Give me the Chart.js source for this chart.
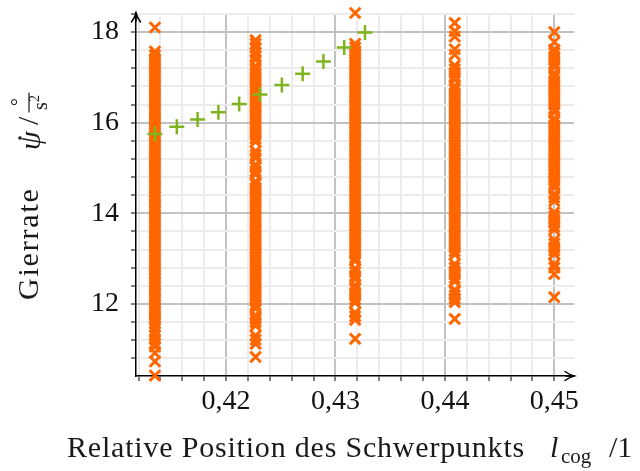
<!DOCTYPE html>
<html>
<head>
<meta charset="utf-8">
<script src="https://cdn.jsdelivr.net/npm/chart.js@4.4.1/dist/chart.umd.min.js"></script>
<style>
  body { margin: 0; background: #fff; }
  canvas { display: block; }
</style>
</head>
<body>
<canvas id="myChart" width="640" height="471"></canvas>
<script>
// positions of the five measured configurations (relative cog position)
const columnX = [0.4135, 0.4227, 0.4318, 0.4409, 0.4500];

// yaw rate samples for each configuration
const col1 = [10.42, 10.73, 10.92, 11.06, 11.13, 11.22, 11.31, 11.38, 11.49, 11.57, 11.64, 11.71, 11.79, 11.86, 11.93,
  12.01, 12.09, 12.16, 12.24, 12.31, 12.39, 12.47, 12.55, 12.62, 12.69, 12.77, 12.85, 12.92, 13.00, 13.08, 13.15,
  13.23, 13.30, 13.38, 13.46, 13.53, 13.61, 13.68, 13.76, 13.84, 13.91, 13.99, 14.06, 14.14, 14.22, 14.29, 14.37,
  14.46, 14.53, 14.60, 14.68, 14.75, 14.83, 14.91, 14.98, 15.06, 15.13, 15.21, 15.29, 15.36, 15.44, 15.51, 15.59,
  15.67, 15.74, 15.82, 15.89, 15.97, 16.05, 16.12, 16.20, 16.27, 16.35, 16.43, 16.50, 16.58, 16.65, 16.73, 16.81,
  16.88, 16.96, 17.03, 17.11, 17.19, 17.26, 17.34, 17.41, 17.49, 17.57, 18.10];
const col2 = [10.83, 11.12, 11.21, 11.30, 11.52, 11.60, 11.67, 11.75, 11.90, 11.98, 12.06, 12.13, 12.21, 12.28, 12.36,
  12.44, 12.51, 12.59, 12.66, 12.74, 12.82, 12.89, 12.97, 13.04, 13.12, 13.20, 13.27, 13.35, 13.42, 13.50, 13.58,
  13.65, 13.73, 13.80, 13.88, 13.96, 14.03, 14.11, 14.18, 14.26, 14.34, 14.41, 14.49, 14.56, 14.64, 14.70, 14.86,
  14.93, 15.01, 15.07, 15.22, 15.29, 15.37, 15.58, 15.65, 15.73, 15.80, 15.88, 15.96, 16.03, 16.11, 16.18, 16.26,
  16.34, 16.41, 16.49, 16.56, 16.64, 16.72, 16.79, 16.87, 16.94, 17.02, 17.10, 17.17, 17.25, 17.39, 17.47, 17.54,
  17.66, 17.74, 17.82];
const col3 = [11.23, 11.65, 11.73, 11.81, 12.03, 12.10, 12.18, 12.25, 12.33, 12.41, 12.55, 12.62, 12.70, 12.78, 12.95,
  13.02, 13.10, 13.17, 13.25, 13.33, 13.40, 13.48, 13.55, 13.63, 13.71, 13.78, 13.86, 13.93, 14.01, 14.09, 14.16,
  14.24, 14.31, 14.39, 14.47, 14.54, 14.62, 14.69, 14.77, 14.85, 14.92, 15.00, 15.07, 15.15, 15.23, 15.30, 15.38,
  15.45, 15.53, 15.61, 15.68, 15.76, 15.83, 15.91, 15.99, 16.06, 16.14, 16.21, 16.29, 16.37, 16.44, 16.52, 16.59,
  16.67, 16.75, 16.82, 16.90, 16.97, 17.05, 17.13, 17.20, 17.28, 17.35, 17.43, 17.51, 17.58, 17.66, 17.74, 18.42];
const col4 = [11.67, 12.04, 12.12, 12.19, 12.27, 12.31, 12.50, 12.57, 12.65, 12.72, 12.80, 12.88, 13.09, 13.16, 13.24,
  13.31, 13.39, 13.47, 13.54, 13.62, 13.69, 13.77, 13.85, 13.92, 14.00, 14.07, 14.15, 14.23, 14.30, 14.38, 14.45,
  14.53, 14.61, 14.68, 14.76, 14.83, 14.91, 14.99, 15.06, 15.14, 15.21, 15.29, 15.37, 15.44, 15.52, 15.59, 15.67,
  15.75, 15.82, 15.90, 15.97, 16.05, 16.13, 16.20, 16.28, 16.35, 16.43, 16.51, 16.58, 16.66, 16.73, 16.81, 16.95,
  17.03, 17.10, 17.18, 17.26, 17.50, 17.62, 17.90, 18.02, 18.20];
const col5 = [12.15, 12.66, 12.80, 12.88, 13.10, 13.18, 13.25, 13.33, 13.41, 13.64, 13.71, 13.79, 13.87, 13.94, 14.02,
  14.27, 14.35, 14.42, 14.57, 14.65, 14.72, 14.80, 14.88, 14.95, 15.03, 15.10, 15.18, 15.26, 15.33, 15.41, 15.48,
  15.56, 15.64, 15.71, 15.79, 15.86, 15.94, 16.02, 16.09, 16.24, 16.32, 16.40, 16.47, 16.55, 16.62, 16.70, 16.78,
  16.85, 16.93, 17.00, 17.08, 17.23, 17.31, 17.38, 17.46, 17.54, 17.61, 17.78, 18.00];

// green reference line points
const lineX = [0.4135, 0.4155, 0.4174, 0.4193, 0.4212, 0.4231, 0.4251, 0.4270, 0.4289, 0.4308, 0.4327];
const lineY = [15.75, 15.91, 16.07, 16.23, 16.41, 16.62, 16.83, 17.08, 17.35, 17.66, 17.99];

// labelled ticks
const xLabels = [0.42, 0.43, 0.44, 0.45];
const yLabels = [12, 14, 16, 18];

const xTitle = 'Relative Position des Schwerpunkts';
const yTitle = 'Gierrate';

const orange = '#ff6600';
const green = '#80b41e';
const serif = '"Liberation Serif", "Times New Roman", serif';

const columns = [col1, col2, col3, col4, col5];
const samples = [];
columns.forEach((ys, i) => ys.forEach(y => samples.push({ x: columnX[i], y: y })));
const linePts = lineX.map((x, i) => ({ x: x, y: lineY[i] }));

const isMajorX = v => xLabels.some(l => Math.abs(l - v) < 1e-6);
const isMajorY = v => yLabels.some(l => Math.abs(l - v) < 1e-6);

// arrows on the axes + the axis titles with sub/superscripts
const decorations = {
    id: 'decorations',
    afterDraw(chart) {
        const ctx = chart.ctx;
        const a = chart.chartArea;
        ctx.save();
        ctx.strokeStyle = '#000';
        ctx.lineWidth = 1.5;
        ctx.lineCap = 'round';
        // y arrow
        ctx.beginPath();
        ctx.moveTo(a.left - 4.5, a.top + 9);
        ctx.quadraticCurveTo(a.left - 1, a.top + 4, a.left, a.top);
        ctx.quadraticCurveTo(a.left + 1, a.top + 4, a.left + 4.5, a.top + 9);
        ctx.moveTo(a.left, a.top);
        ctx.lineTo(a.left, a.top + 8);
        ctx.stroke();
        // x arrow
        ctx.beginPath();
        ctx.moveTo(a.right - 9, a.bottom - 4.5);
        ctx.quadraticCurveTo(a.right - 4, a.bottom - 1, a.right, a.bottom);
        ctx.quadraticCurveTo(a.right - 4, a.bottom + 1, a.right - 9, a.bottom + 4.5);
        ctx.moveTo(a.right, a.bottom);
        ctx.lineTo(a.right - 8, a.bottom);
        ctx.stroke();

        ctx.fillStyle = '#1a1a1a';
        ctx.textBaseline = 'alphabetic';
        // x title
        ctx.font = '30px ' + serif;
        ctx.letterSpacing = '0.8px';
        ctx.fillText(xTitle, 67, 457);
        ctx.letterSpacing = '0px';
        ctx.font = 'italic 30px ' + serif;
        ctx.fillText('l', 550, 457);
        ctx.font = '21px ' + serif;
        ctx.fillText('cog', 561, 463);
        ctx.font = '30px ' + serif;
        ctx.fillText('/1', 609, 457);

        // y title (rotated)
        ctx.translate(38, 300);
        ctx.rotate(-Math.PI / 2);
        ctx.font = '30px ' + serif;
        ctx.letterSpacing = '1.8px';
        ctx.fillText(yTitle, 0, 0);
        ctx.letterSpacing = '0px';
        ctx.font = 'italic 30px ' + serif;
        ctx.fillText('\u03C8', 150, 2);
        ctx.beginPath();
        ctx.arc(162, -18, 1.8, 0, Math.PI * 2);
        ctx.fill();
        ctx.font = '30px ' + serif;
        ctx.fillText('/', 175, 0);
        ctx.font = '20px ' + serif;
        ctx.fillText('\u00B0', 194, -13);
        ctx.fillText('s', 190, 9);
        ctx.font = '14px ' + serif;
        ctx.fillText('2', 198, 1);
        ctx.beginPath();
        ctx.lineWidth = 1.1;
        ctx.moveTo(188, -9);
        ctx.lineTo(207, -9);
        ctx.stroke();
        ctx.restore();
    }
};

new Chart(document.getElementById('myChart'), {
    type: 'scatter',
    data: {
        datasets: [{
            label: 'Linie',
            data: linePts,
            pointStyle: 'cross',
            pointRadius: 7.5,
            borderColor: green,
            backgroundColor: green,
            borderWidth: 2.5,
            clip: false,
            order: 0
        }, {
            label: 'Messungen',
            data: samples,
            pointStyle: 'crossRot',
            pointRadius: 7.5,
            borderColor: orange,
            backgroundColor: orange,
            borderWidth: 3,
            clip: false,
            order: 1
        }]
    },
    options: {
        responsive: false,
        animation: false,
        events: [],
        layout: { padding: { top: 13, right: 66, left: 0, bottom: 0 } },
        plugins: { legend: { display: false }, tooltip: { enabled: false } },
        scales: {
            x: {
                type: 'linear',
                min: 0.41177,
                max: 0.4518,
                afterFit: s => { s.height = 95; s.paddingLeft = 0; s.paddingRight = 0; },
                ticks: {
                    stepSize: 0.002,
                    includeBounds: false,
                    autoSkip: false,
                    maxRotation: 0,
                    padding: 4,
                    color: '#111',
                    font: { family: serif, size: 28 },
                    callback: v => isMajorX(v) ? v.toFixed(2).replace('.', ',') : ''
                },
                grid: {
                    color: c => isMajorX(c.tick.value) ? '#c2c2c2' : '#ececec',
                    lineWidth: 2,
                    tickColor: '#000',
                    tickLength: 5,
                    tickWidth: 1
                },
                border: { color: '#000', width: 1.5 }
            },
            y: {
                min: 10.41,
                max: 18.42,
                afterFit: s => { s.width = 136; s.paddingTop = 0; s.paddingBottom = 0; },
                ticks: {
                    stepSize: 0.4,
                    includeBounds: false,
                    autoSkip: false,
                    padding: 12,
                    color: '#111',
                    font: { family: serif, size: 28 },
                    callback: v => isMajorY(v) ? String(Math.round(v)) : ''
                },
                grid: {
                    color: c => isMajorY(c.tick.value) ? '#c2c2c2' : '#ececec',
                    lineWidth: 2,
                    tickColor: '#000',
                    tickLength: 5,
                    tickWidth: 1
                },
                border: { color: '#000', width: 1.5 }
            }
        }
    },
    plugins: [decorations]
});
</script>
</body>
</html>
